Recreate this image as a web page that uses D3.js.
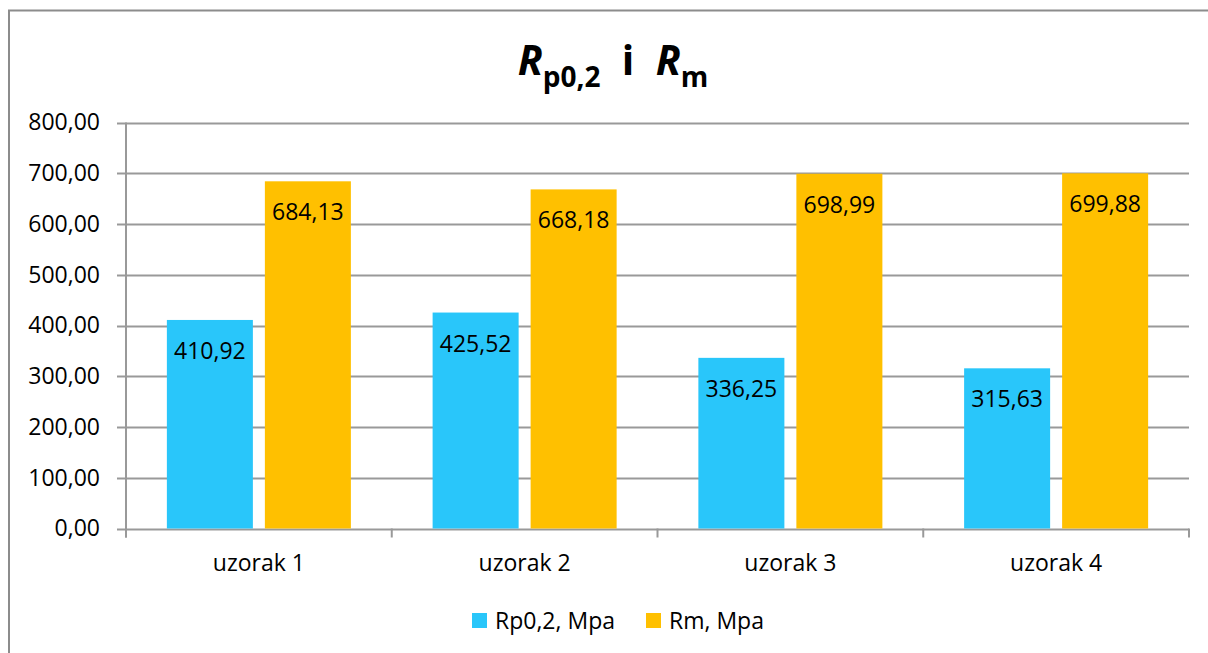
<!DOCTYPE html>
<html><head><meta charset="utf-8">
<script src="https://cdn.jsdelivr.net/npm/d3@7"></script>
<style>body{margin:0;background:#fff;} svg{display:block;font-family:"Open Sans",sans-serif;}</style>
</head><body>
<svg id="c" width="1208" height="653"></svg>
<script>
const categories = ["uzorak 1","uzorak 2","uzorak 3","uzorak 4"];
const seriesNames = ["Rp0,2, Mpa","Rm, Mpa"];
const rp02 = [410.92, 425.52, 336.25, 315.63];
const rm = [684.13, 668.18, 698.99, 699.88];
const yTicks = [0,100,200,300,400,500,600,700,800];
const colors = ["#29C6FA","#FFC000"];

const svg = d3.select("#c");
const fmt = v => v.toFixed(2).replace(".", ",");
const m = {l:126, r:1189, t:122.5, b:528.5};
const FS = 23;

// outer border
svg.append("path").attr("d","M9,653 V10.5 H1208").attr("fill","none").attr("stroke","#8c8c8c").attr("stroke-width",2);

const x = d3.scaleBand().domain(categories).range([m.l,m.r]).paddingInner(0).paddingOuter(0);
const y = d3.scaleLinear().domain([0,800]).range([m.b,m.t]);

// gridlines
svg.append("g").selectAll("line").data(yTicks).join("line")
  .attr("x1",m.l-9).attr("x2",m.r).attr("y1",d=>Math.round(y(d))+0.5).attr("y2",d=>Math.round(y(d))+0.5)
  .attr("stroke","#999").attr("stroke-width",2);

// y axis
const ya = svg.append("g").attr("transform",`translate(${m.l},0)`)
  .call(d3.axisLeft(y).tickValues(yTicks).tickFormat(fmt).tickSize(0).tickPadding(26));
ya.select(".domain").remove();
ya.selectAll("text").attr("font-size",FS).attr("fill","#000").attr("font-family","Open Sans");
svg.append("line").attr("x1",m.l).attr("x2",m.l).attr("y1",m.t).attr("y2",m.b+9).attr("stroke","#999").attr("stroke-width",2);

// x axis
const xa = svg.append("g").attr("transform",`translate(0,${m.b})`)
  .call(d3.axisBottom(x).tickSize(0).tickPadding(26));
xa.select(".domain").remove();
xa.selectAll("text").attr("font-size",FS).attr("fill","#000").attr("font-family","Open Sans");
const bounds = categories.map(c=>x(c)).concat([m.r]);
svg.append("g").selectAll("line").data(bounds).join("line")
  .attr("x1",d=>d).attr("x2",d=>d).attr("y1",m.b).attr("y2",m.b+9).attr("stroke","#999").attr("stroke-width",2);

// bars
const x1 = d3.scaleBand().domain([0,1]).range([0,x.bandwidth()]).paddingInner(0.1224).paddingOuter(0.417);
const data = [];
categories.forEach((c,i)=>{ data.push({c,s:0,v:rp02[i]}); data.push({c,s:1,v:rm[i]}); });
const bars = svg.append("g");
bars.selectAll("rect").data(data).join("rect")
  .attr("x",d=>x(d.c)+x1(d.s)).attr("width",x1.bandwidth())
  .attr("y",d=>y(d.v)).attr("height",d=>y(0)-y(d.v)).attr("fill",d=>colors[d.s]);
bars.selectAll("text").data(data).join("text")
  .attr("x",d=>x(d.c)+x1(d.s)+x1.bandwidth()/2).attr("y",d=>y(d.v)+39)
  .attr("text-anchor","middle").attr("font-size",FS).attr("fill","#000").text(d=>fmt(d.v));

// title
const t = svg.append("text").attr("x",613).attr("y",75).attr("text-anchor","middle").attr("font-weight","bold").attr("fill","#000");
t.append("tspan").attr("font-size",41).attr("font-style","italic").text("R");
t.append("tspan").attr("font-size",28).attr("dy",12).text("p0,2");
t.append("tspan").attr("font-size",41).attr("dy",-12).text("\u00a0\u00a0i\u00a0\u00a0");
t.append("tspan").attr("font-size",41).attr("font-style","italic").text("R");
t.append("tspan").attr("font-size",28).attr("dy",12).text("m");

// legend
const lg = svg.append("g");
const lx = [472, 646];
seriesNames.forEach((n,i)=>{
  lg.append("rect").attr("x",lx[i]).attr("y",613).attr("width",15).attr("height",15).attr("fill",colors[i]);
  lg.append("text").attr("x",lx[i]+23).attr("y",629).attr("font-size",FS).attr("fill","#000").text(n);
});
</script>
</body></html>
